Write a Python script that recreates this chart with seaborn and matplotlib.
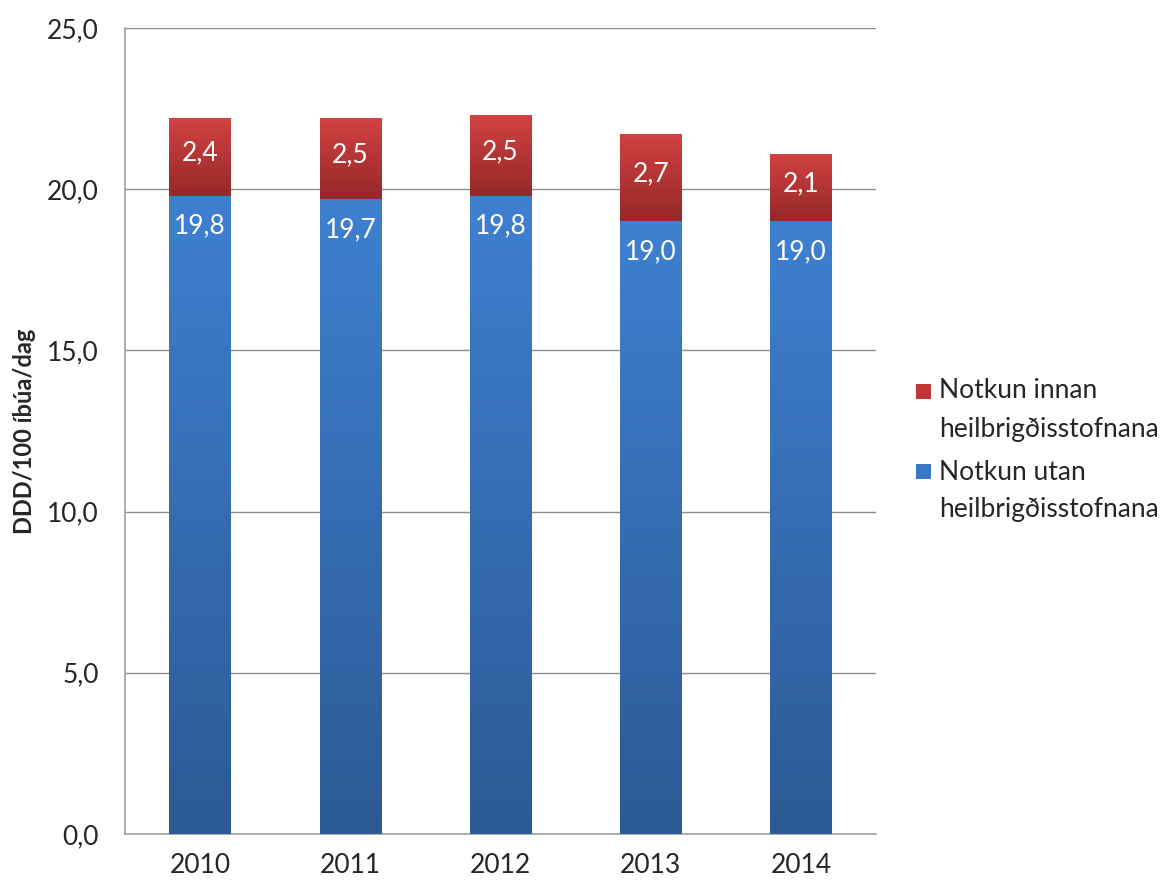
import numpy as np
import pandas as pd
import matplotlib
matplotlib.use("Agg")
import matplotlib.pyplot as plt
import seaborn as sns
from matplotlib.colors import LinearSegmentedColormap
from matplotlib.patches import Rectangle

years = ["2010", "2011", "2012", "2013", "2014"]
utan = [19.8, 19.7, 19.8, 19.0, 19.0]
innan = [2.4, 2.5, 2.5, 2.7, 2.1]
label_innan = ["Notkun innan", "heilbrigðisstofnana"]
label_utan = ["Notkun utan", "heilbrigðisstofnana"]
ylabel = "DDD/100 íbúa/dag"

sns.set_style("white")
plt.rcParams['font.family'] = ['Lato', 'DejaVu Sans']

df = pd.DataFrame({"year": years, "utan": utan, "innan": innan})
df["total"] = df["utan"] + df["innan"]

W, H = 1164, 882
fig = plt.figure(figsize=(W / 100, H / 100), dpi=100)
ax = fig.add_axes([125 / W, 1 - 834 / H, (876 - 125) / W, (834 - 28) / H])

sns.barplot(data=df, x="year", y="total", color="#c03535", width=0.41, ax=ax, zorder=2)
sns.barplot(data=df, x="year", y="utan", color="#3a78c6", width=0.41, ax=ax, zorder=2)

patches = list(ax.patches)
n = len(years)
red_patches = patches[:n]
blue_patches = patches[n:]

blue_cmap = LinearSegmentedColormap.from_list("b", ["#2c5a94", "#3e80d0"])
red_cmap = LinearSegmentedColormap.from_list("r", ["#962828", "#d24242"])

def gradient(p, cmap, y0, y1):
    x = p.get_x(); w = p.get_width()
    grad = np.linspace(0, 1, 256).reshape(-1, 1)
    im = ax.imshow(grad, cmap=cmap, aspect="auto", origin="lower",
                   extent=[x, x + w, y0, y1], zorder=3)
    im.set_clip_path(p)
    p.set_edgecolor("none")

for rp, bp, u, t in zip(red_patches, blue_patches, utan, df["total"]):
    gradient(bp, blue_cmap, 0, u)
    gradient(rp, red_cmap, u, t)

def fmt(v):
    return f"{v:.1f}".replace(".", ",")

FS = 19
for bp, u, i in zip(blue_patches, utan, innan):
    cx = bp.get_x() + bp.get_width() / 2
    ax.text(cx, u - 0.95, fmt(u), ha="center", va="center", color="white", fontsize=FS, zorder=5)
    ax.text(cx, u + i / 2 + 0.12, fmt(i), ha="center", va="center", color="white", fontsize=FS, zorder=5)

ax.set_xlim(-0.5, n - 0.5)
ax.set_ylim(0, 25)
yt = [0, 5, 10, 15, 20, 25]
ax.set_yticks(yt)
ax.set_yticklabels([fmt(v) for v in yt], fontsize=FS)
ax.set_xticks(range(n))
ax.set_xticklabels(years, fontsize=FS)
ax.set_xticks([k - 0.5 for k in range(n + 1)], minor=True)
ax.tick_params(axis="x", which="major", length=0, pad=14)
ax.tick_params(axis="x", which="minor", length=8, color="#a0a0a0", width=1.2)
ax.tick_params(axis="y", length=9, color="#a0a0a0", width=1.2, pad=10)
ax.grid(axis="y", color="#8c8c8c", linewidth=1.0, zorder=0)
ax.set_axisbelow(True)
ax.set_xlabel("")
ax.set_ylabel(ylabel, fontsize=17, fontweight="bold", labelpad=8)
for s in ["top", "right"]:
    ax.spines[s].set_visible(False)
for s in ["left", "bottom"]:
    ax.spines[s].set_color("#a0a0a0")
    ax.spines[s].set_linewidth(1.2)

# legend drawn manually so the marker lines up with the first text line
entries = [(label_innan, "#c03535", 391), (label_utan, "#3a78c6", 472)]
for lines, col, ypix in entries:
    sq = 15
    fig.patches.append(Rectangle((916 / W, 1 - (ypix + sq / 2) / H), sq / W, sq / H,
                                 facecolor=col, edgecolor="none", transform=fig.transFigure))
    fig.text(939 / W, 1 - ypix / H, lines[0], fontsize=FS, va="center", ha="left")
    fig.text(939 / W, 1 - (ypix + 38) / H, lines[1], fontsize=FS, va="center", ha="left")

fig.savefig("out.png", dpi=100)
